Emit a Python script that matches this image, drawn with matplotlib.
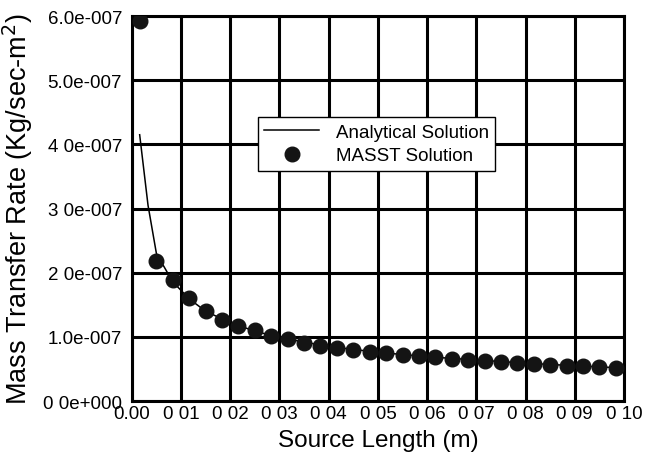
import matplotlib
matplotlib.use("Agg")
import matplotlib.pyplot as plt

# MASST solution: cell-centred values along the source
masst_x = [(i + 0.5) / 300.0 for i in range(30)]
masst_y = [5.93, 2.19, 1.88, 1.60, 1.40, 1.26, 1.17, 1.10, 1.02, 0.96,
           0.90, 0.86, 0.83, 0.80, 0.77, 0.75, 0.72, 0.70, 0.68, 0.66,
           0.64, 0.62, 0.61, 0.59, 0.57, 0.56, 0.55, 0.54, 0.53, 0.52]
masst_y = [v * 1e-7 for v in masst_y]

# analytical solution
anal_x = [0.0016, 0.0033, 0.0050, 0.0083, 0.0117, 0.0150, 0.0200, 0.0250,
          0.0300, 0.0400, 0.0500, 0.0600, 0.0700, 0.0800, 0.0900, 0.0983]
anal_y = [4.15, 3.05, 2.30, 1.86, 1.59, 1.40, 1.22, 1.09,
          0.99, 0.85, 0.76, 0.69, 0.64, 0.59, 0.55, 0.52]
anal_y = [v * 1e-7 for v in anal_y]

xticks = [0.00, 0.01, 0.02, 0.03, 0.04, 0.05, 0.06, 0.07, 0.08, 0.09, 0.10]
xtick_labels = ["0.00", "0 01", "0 02", "0 03", "0 04", "0 05",
                "0 06", "0 07", "0 08", "0 09", "0 10"]
yticks = [0.0, 1e-7, 2e-7, 3e-7, 4e-7, 5e-7, 6e-7]
ytick_labels = ["0 0e+000", "1.0e-007", "2 0e-007", "3 0e-007",
                "4 0e-007", "5.0e-007", "6.0e-007"]

plt.rcParams['font.family'] = ['Liberation Sans', 'DejaVu Sans']

fig = plt.figure(figsize=(6.46, 4.60), dpi=100)
ax = fig.add_axes([0.204, 0.126, 0.762, 0.837])

ax.plot(anal_x, anal_y, color='black', linewidth=1.1, label='Analytical Solution', zorder=3)
ax.plot(masst_x, masst_y, linestyle='none', marker='o', markersize=10.5,
        markerfacecolor='#141414', markeredgecolor='#141414',
        label='MASST Solution', zorder=4)

ax.set_xlim(0, 0.10)
ax.set_ylim(0, 6e-7)
ax.set_xticks(xticks)
ax.set_xticklabels(xtick_labels)
ax.set_yticks(yticks)
ax.set_yticklabels(ytick_labels)
ax.tick_params(length=0, labelsize=13.5)
ax.tick_params(axis='x', pad=3)
ax.tick_params(axis='y', pad=7)

ax.grid(True, color='black', linewidth=2.2)
for s in ax.spines.values():
    s.set_linewidth(2.2)

ax.set_xlabel('Source Length (m)', fontsize=17.5, labelpad=5)
ax.set_ylabel('Mass Transfer Rate (Kg/sec-m$^2$)', fontsize=19.5, labelpad=6)

leg = ax.legend(loc='upper left', bbox_to_anchor=(0.256, 0.738), fontsize=13.5,
                frameon=True, fancybox=False, framealpha=1, edgecolor='black',
                borderpad=0.35, handlelength=2.9, handletextpad=0.9,
                labelspacing=0.35, borderaxespad=0)
leg.get_frame().set_linewidth(1.0)

fig.savefig('out.png', dpi=100)
